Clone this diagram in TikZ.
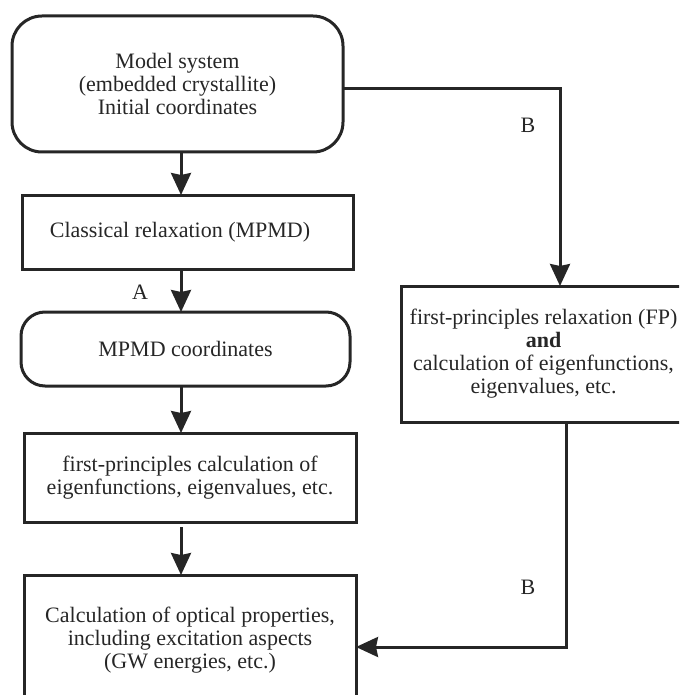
\documentclass[tikz,border=0pt]{standalone}
\usepackage{fontspec}
\setmainfont{Liberation Serif}
\usetikzlibrary{arrows.meta}
\begin{document}
\begin{tikzpicture}[x=1pt,y=-1pt,
  every node/.style={inner sep=0pt, outer sep=0pt, font=\fontsize{22}{23}\selectfont, align=center, text=black!85},
  box/.style={draw=black!85, line width=3pt, rectangle},
  rbox/.style={box, rounded corners=#1},
  conn/.style={draw=black!85, line width=3pt},
  arr/.style={conn, -{Stealth[length=22pt, width=20pt, inset=2pt]}},
  lbl/.style={font=\fontsize{22}{23}\selectfont}]
\useasboundingbox (0,0) rectangle (679,695);
\clip (0,0) rectangle (679,695);
\node[rbox=30pt, minimum width=331pt, minimum height=136pt] (top) at (177.5,84)
  {Model system\\(embedded crystallite)\\Initial coordinates};
\node[box, minimum width=331pt, minimum height=74pt] (cls) at (187.5,232)
  {\hspace*{-15pt}Classical relaxation (MPMD)};
\node[rbox=24pt, minimum width=329pt, minimum height=74pt] (mpmd) at (185.5,349)
  {MPMD coordinates};
\node[box, minimum width=332pt, minimum height=89pt] (fpc) at (190,477.5)
  {first-principles calculation of\\eigenfunctions, eigenvalues, etc.};
\node[box, minimum width=332pt, minimum height=130pt] (opt) at (190,640)
  {Calculation of optical properties,\\including excitation aspects\\(GW energies, etc.)};
\node[box, minimum width=285pt, minimum height=136pt] (fp) at (543.5,354)
  {first-principles relaxation (FP)\\\textbf{and}\\calculation of eigenfunctions,\\eigenvalues, etc.};
\coordinate (spine) at (181,0);
\coordinate (k1) at (560,89);
\coordinate (k2) at (566,647);
\draw[arr] (top.south -| spine) -- (cls.north -| spine);
\draw[arr] (cls.south -| spine) -- (mpmd.north -| spine);
\draw[arr] (mpmd.south -| spine) -- (fpc.north -| spine);
\draw[arr, shorten <=5pt] (fpc.south -| spine) -- (opt.north -| spine);
\draw[arr] (top.east |- k1) -- (k1) -- (fp.north -| k1);
\draw[arr] (fp.south -| k2) -- (k2) -- (opt.east |- k2);
\node[lbl] (la) at (140,292) {A};
\node[lbl] (lb1) at (528,125) {B};
\node[lbl] (lb2) at (528,587) {B};
\end{tikzpicture}
\end{document}
